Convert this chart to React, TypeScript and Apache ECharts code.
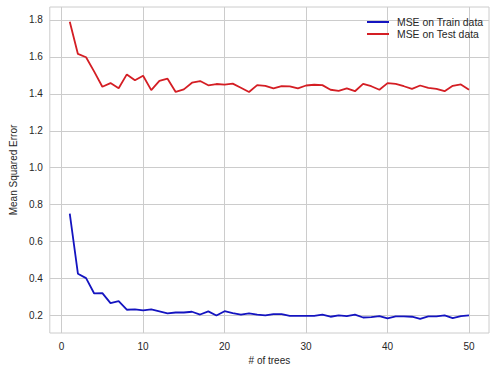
import React, { useEffect, useRef } from "react";
import * as echarts from "echarts";

const trees: number[] = Array.from({ length: 50 }, (_, i) => i + 1);

const trainMse: number[] = [
  0.751, 0.426, 0.402, 0.319, 0.321, 0.267, 0.278, 0.231, 0.233, 0.227,
  0.233, 0.222, 0.211, 0.216, 0.216, 0.22, 0.205, 0.222, 0.2, 0.223,
  0.213, 0.204, 0.211, 0.204, 0.2, 0.207, 0.207, 0.198, 0.198, 0.198,
  0.198, 0.204, 0.193, 0.2, 0.196, 0.205, 0.189, 0.191, 0.196, 0.184,
  0.195, 0.195, 0.193, 0.182, 0.195, 0.195, 0.2, 0.186, 0.196, 0.2,
];

const testMse: number[] = [
  1.79, 1.616, 1.598, 1.52, 1.438, 1.458, 1.43, 1.505, 1.473, 1.498,
  1.42, 1.47, 1.482, 1.41, 1.424, 1.46, 1.469, 1.446, 1.453, 1.45,
  1.455, 1.433, 1.41, 1.447, 1.443, 1.429, 1.441, 1.44, 1.429, 1.445,
  1.449, 1.447, 1.422, 1.416, 1.429, 1.414, 1.454, 1.441, 1.422, 1.458,
  1.454, 1.441, 1.427, 1.445, 1.432, 1.427, 1.414, 1.443, 1.451, 1.422,
];

const xTicks: number[] = [0, 10, 20, 30, 40, 50];
const yTicks: number[] = [0.2, 0.4, 0.6, 0.8, 1.0, 1.2, 1.4, 1.6, 1.8];

const seriesNames = ["MSE on Train data", "MSE on Test data"];
const colors = ["#1414c0", "#d41e24"];

export default function App() {
  const ref = useRef<HTMLDivElement>(null);
  useEffect(() => {
    if (!ref.current) return;
    const chart = echarts.init(ref.current, null, { renderer: "svg" });
    const font = "Liberation Sans, Arial, sans-serif";
    const gridColor = "#cccccc";
    chart.setOption({
      animation: false,
      textStyle: { fontFamily: font },
      grid: { left: 42, right: 6, top: 7, bottom: 38, show: true, borderColor: gridColor, borderWidth: 1 },
      legend: {
        orient: "vertical",
        left: 362,
        top: 12,
        itemWidth: 22,
        itemHeight: 2,
        itemGap: 2,
        icon: "rect",
        textStyle: { fontSize: 10.4, color: "#262626", fontFamily: font, padding: [0, 0, 0, 3] },
        data: seriesNames,
      },
      xAxis: {
        type: "value",
        min: -1.45,
        max: 52.45,
        name: "# of trees",
        nameLocation: "middle",
        nameGap: 19,
        nameTextStyle: { fontSize: 10, color: "#262626" },
        axisLine: { show: false },
        axisTick: { show: false, customValues: xTicks },
        axisLabel: { customValues: xTicks, fontSize: 10, color: "#262626", margin: 8 },
        splitLine: { show: true, lineStyle: { color: gridColor, width: 1 } },
      },
      yAxis: {
        type: "value",
        min: 0.105,
        max: 1.87,
        name: "Mean Squared Error",
        nameLocation: "middle",
        nameGap: 31,
        nameTextStyle: { fontSize: 10, color: "#262626" },
        axisLine: { show: false },
        axisTick: { show: false, customValues: yTicks },
        axisLabel: {
          customValues: yTicks,
          fontSize: 10,
          color: "#262626",
          margin: 7,
          formatter: (v: number) => v.toFixed(1),
        },
        splitLine: { show: true, lineStyle: { color: gridColor, width: 1 } },
      },
      series: [
        {
          name: seriesNames[0],
          type: "line",
          data: trees.map((t, i) => [t, trainMse[i]]),
          showSymbol: false,
          symbol: "none",
          lineStyle: { color: colors[0], width: 1.8 },
          itemStyle: { color: colors[0] },
        },
        {
          name: seriesNames[1],
          type: "line",
          data: trees.map((t, i) => [t, testMse[i]]),
          showSymbol: false,
          symbol: "none",
          lineStyle: { color: colors[1], width: 1.8 },
          itemStyle: { color: colors[1] },
        },
      ],
    });
    return () => chart.dispose();
  }, []);
  return <div ref={ref} style={{ width: 495, height: 371, position: "absolute", left: 0, top: 0 }} />;
}
